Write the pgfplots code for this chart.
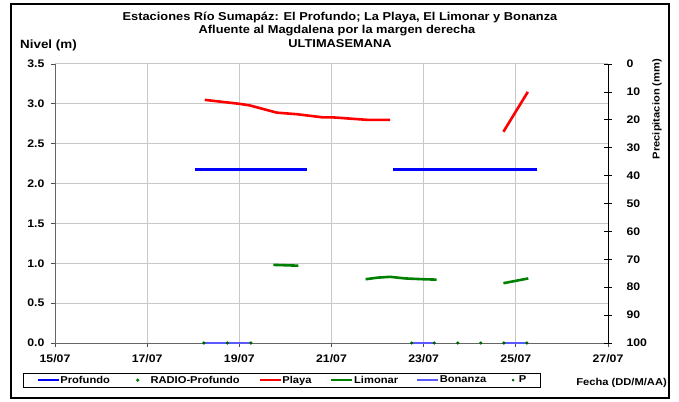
\documentclass[border=0pt]{standalone}
\usepackage{fontspec}
\setmainfont{Liberation Sans}[FakeStretch=1.12]
\usepackage{pgfplots}
\pgfplotsset{compat=1.18}
\definecolor{bonanza}{RGB}{90,90,255}
\definecolor{lgreen}{RGB}{0,128,0}
\definecolor{pgreen}{RGB}{0,90,0}
\definecolor{gridg}{RGB}{200,200,200}
\begin{document}
\begin{tikzpicture}[x=1bp,y=1bp]
\path[use as bounding box] (0,0) rectangle (679,401);
\draw[line width=2.5bp] (11,3) rectangle (669,397);
\node[font=\bfseries\fontsize{11.5}{13}\selectfont] at (340,384) {Estaciones Río Sumapáz: El Profundo; La Playa, El Limonar y Bonanza};
\node[font=\bfseries\fontsize{11.5}{13}\selectfont] at (337,370) {Afluente al Magdalena por la margen derecha};
\node[font=\bfseries\fontsize{11.5}{13}\selectfont] at (340,357) {ULTIMASEMANA};
\node[font=\bfseries\fontsize{12}{13}\selectfont, anchor=west, inner sep=0pt] at (20,356) {Nivel (m)};
\node[font=\bfseries\fontsize{10}{12}\selectfont, anchor=east, inner sep=0pt] at (667,18) {Fecha (DD/M/AA)};
\node[font=\bfseries\fontsize{10}{12}\selectfont, rotate=90] at (657,292) {Precipitacion (mm)};
\begin{axis}[
  at={(55bp,58bp)}, anchor=south west,
  scale only axis, width=553bp, height=279bp,
  xmin=15, xmax=27, ymin=0, ymax=3.5,
  axis x line*=bottom, axis y line*=left,
  axis line style={-, draw=black!60, line width=1bp},
  xtick={15,17,19,21,23,25,27},
  xticklabels={15/07,17/07,19/07,21/07,23/07,25/07,27/07},
  xticklabel style={yshift=-4bp},
  ytick={0,0.5,1,1.5,2,2.5,3,3.5},
  yticklabel style={/pgf/number format/.cd, fixed, fixed zerofill, precision=1, assume math mode=true, /tikz/.cd, xshift=-3bp},
  ticklabel style={font=\bfseries\fontsize{11}{12}\selectfont},
  grid=major, major grid style={draw=gridg, line width=1bp},
  tick align=outside, major tick length=4bp,
  tick style={black!70, line width=0.8bp},
  unbounded coords=jump, clip=false,
  legend columns=6,
  legend cell align=left,
  legend image code/.code={\draw[#1] (0bp,0bp) -- (21bp,0bp);},
  legend style={at={(-0.0579,-0.1075)}, anchor=north west, draw=black, line width=0.6bp,
    font=\bfseries\fontsize{10}{11}\selectfont,
    nodes={inner xsep=0.5bp, inner ysep=2bp},
    /tikz/every even column/.append style={column sep=18bp},
    inner xsep=13bp, inner ysep=0.5bp},
]
\addplot[blue, line width=2.6bp] coordinates {(18.04,2.18)(20.46,2.18)(21,nan)(22.33,2.18)(23.0,2.18)(23.4,2.18)(25.1,2.18)(25.45,2.18)};
\addlegendentry{Profundo}
\addplot[only marks, mark=*, mark size=1.4bp, lgreen,
  legend image code/.code={\path (0bp,0bp) (21bp,0bp); \fill[lgreen] (9bp,0bp) circle (1.4bp);}]
  coordinates {(18.23,0)(18.74,0)(19.25,0)(22.74,0)(23.23,0)(23.74,0)(24.24,0)(24.74,0)(25.24,0)};
\addlegendentry{RADIO-Profundo}
\addplot[red, line width=2.6bp] coordinates {(18.25,3.05)(19.01,3.00)(19.23,2.98)(19.81,2.89)(20.25,2.87)(20.82,2.83)(21.04,2.83)(21.76,2.80)(22.27,2.80)(23,nan)(24.73,2.65)(25.26,3.15)};
\addlegendentry{Playa}
\addplot[lgreen, line width=2.6bp] coordinates {(19.74,0.98)(20.28,0.97)(21,nan)(21.74,0.80)(22.0,0.82)(22.27,0.83)(22.6,0.81)(22.99,0.80)(23.28,0.795)(24,nan)(24.73,0.75)(25.27,0.81)};
\addlegendentry{Limonar}
\addplot[bonanza, line width=1.6bp] coordinates {(18.23,0)(19.25,0)(20,nan)(22.74,0)(23.23,0)(24,nan)(24.74,0)(25.24,0)};
\addlegendentry{Bonanza}
\addlegendimage{legend image code/.code={\path (0bp,0bp) (13bp,0bp); \fill[pgreen] (8bp,0bp) circle (1bp);}}
\addlegendentry{P}
\end{axis}
\begin{axis}[
  at={(55bp,58bp)}, anchor=south west,
  scale only axis, width=553bp, height=279bp,
  xmin=15, xmax=27, ymin=0, ymax=100, y dir=reverse,
  axis x line=none, axis y line*=right,
  axis line style={-, draw=black, line width=1bp},
  ytick={0,10,20,30,40,50,60,70,80,90,100},
  yticklabel style={/pgf/number format/assume math mode=true, xshift=11bp},
  ticklabel style={font=\bfseries\fontsize{11}{12}\selectfont},
  tick align=center, major tick length=8bp,
  tick style={black, line width=0.8bp},
  clip=false,
]
\addplot[only marks, mark=*, mark size=1bp, pgreen, forget plot] coordinates {(18.23,100)(18.74,100)(19.25,100)(22.74,100)(23.23,100)(23.74,100)(24.24,100)(24.74,100)(25.24,100)};
\end{axis}
\end{tikzpicture}
\end{document}
